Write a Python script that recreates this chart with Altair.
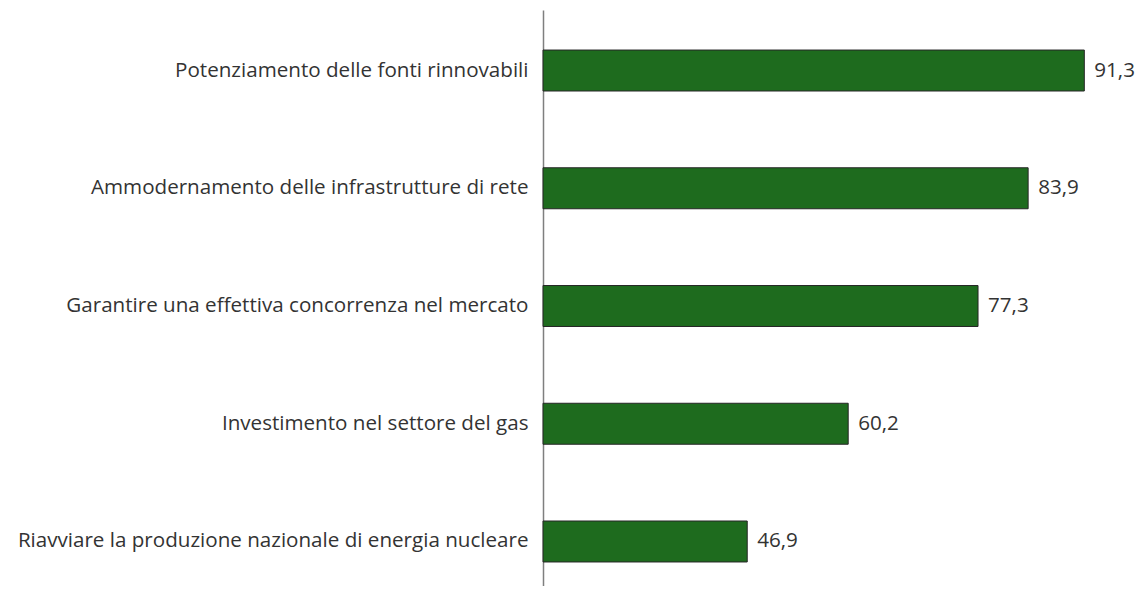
import altair as alt
import pandas as pd

categories = [
    "Potenziamento delle fonti rinnovabili",
    "Ammodernamento delle infrastrutture di rete",
    "Garantire una effettiva concorrenza nel mercato",
    "Investimento nel settore del gas",
    "Riavviare la produzione nazionale di energia nucleare",
]
values = [91.3, 83.9, 77.3, 60.2, 46.9]
axis_start = 20

df = pd.DataFrame({"cat": categories, "v": values})

FONT = "Open Sans"
TXT = "#333333"
FS = 20.6

y = alt.Y(
    "cat:N",
    sort=categories,
    scale=alt.Scale(paddingInner=0.652, paddingOuter=0.272, align=0.625),
    axis=alt.Axis(
        title=None,
        ticks=False,
        labelFont=FONT,
        labelFontSize=FS,
        labelColor=TXT,
        labelPadding=15,
        labelLimit=600,
        domainColor="#7f7f7f",
        domainWidth=1.5,
    ),
)
x = alt.X(
    "v:Q",
    scale=alt.Scale(domain=[axis_start, 96], nice=False, zero=False),
    axis=None,
)

bars = alt.Chart(df).mark_bar(
    color="#1E6B1E", stroke="#262626", strokeWidth=1
).encode(x=x, x2=alt.datum(axis_start), y=y)

labels = alt.Chart(df).transform_calculate(
    lab="replace(format(datum.v, '.1f'), '.', ',')"
).mark_text(
    align="left", baseline="middle", dx=10, font=FONT, fontSize=FS, color=TXT
).encode(x=x, y=y, text="lab:N")

chart = (bars + labels).properties(
    width=577,
    height=576,
    autosize=alt.AutoSizeParams(type="none"),
    padding={"left": 535, "top": 2, "right": 18, "bottom": 0},
    background="white",
).configure_view(stroke=None)

chart.save("out.html", embed_options={"renderer": "svg", "actions": False})
